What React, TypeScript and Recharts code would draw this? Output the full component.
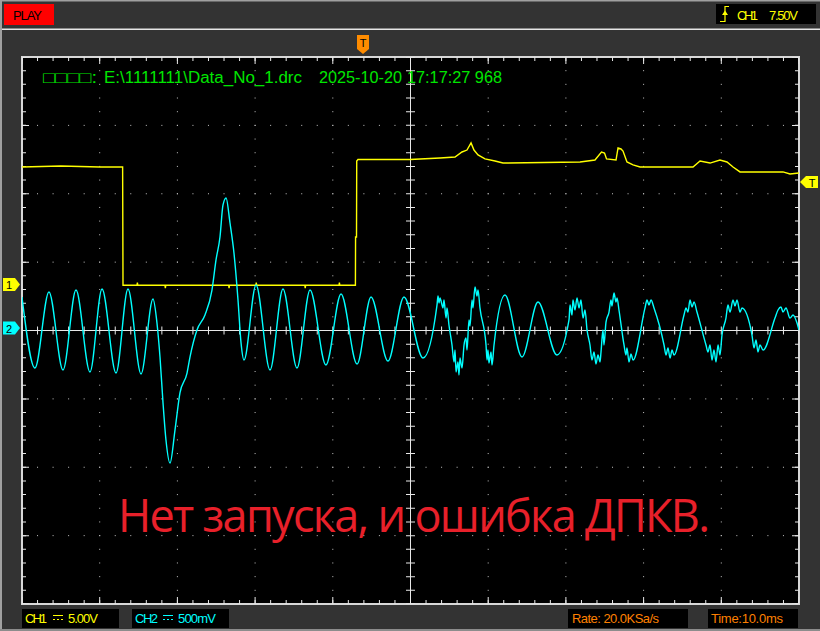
import React from "react";
import { LineChart, Line, XAxis, YAxis, ReferenceLine } from "recharts";

// time in ms from the trigger point, value in volts
const ch1Points: [number, number][] = [
  [-50.0, 8.65], [-45.0, 8.72], [-40.0, 8.65], [-37.05, 8.65], [-37.0, 0],
  [-35.2, 0], [-35.15, 0.2], [-35.1, 0], [-31.6, 0], [-31.55, -0.2], [-31.5, 0],
  [-23.4, 0], [-23.35, -0.2], [-23.3, 0], [-19.9, 0], [-19.85, 0.2], [-19.8, 0],
  [-13.6, 0], [-13.55, -0.2], [-13.5, 0], [-9.2, 0], [-9.15, 0.2], [-9.1, 0],
  [-7.09, 0], [-7.07, 3.53], [-6.95, 3.53], [-6.92, 9.09], [-6.76, 9.2],
  [-0.06, 9.2], [3.8, 9.31], [5.73, 9.38], [6.63, 9.75], [7.27, 9.89],
  [7.79, 10.41], [8.17, 9.89], [8.69, 9.53], [9.59, 9.24], [10.88, 9.09],
  [11.9, 8.94], [21.82, 9.02], [23.74, 9.16], [24.58, 9.75], [24.97, 9.67],
  [25.23, 9.24], [26.45, 9.16], [26.71, 10.04], [27.09, 9.97], [27.35, 9.82],
  [27.86, 9.02], [28.64, 8.8], [29.54, 8.65], [36.36, 8.65], [37.26, 9.09],
  [38.55, 8.94], [39.83, 9.16], [40.73, 9.02], [41.51, 8.65], [42.41, 8.29],
  [47.94, 8.29], [48.84, 8.14], [50.0, 8.21],
];

const ch2Points: [number, number][] = [
  [-50.0, 0.245], [-48.33, -0.274], [-46.53, 0.282], [-44.72, -0.289],
  [-43.05, 0.296], [-41.25, -0.303], [-39.7, 0.303], [-37.9, -0.311],
  [-36.36, 0.303], [-34.68, -0.318], [-33.14, 0.23], [-32.63, 0.055],
  [-32.24, -0.194], [-31.85, -0.53], [-31.47, -0.801], [-30.95, -0.969],
  [-30.31, -0.728], [-29.67, -0.457], [-28.76, -0.311], [-28.38, -0.194],
  [-27.48, 0.004], [-26.45, 0.113], [-25.55, 0.296], [-25.03, 0.516],
  [-24.52, 0.684], [-24.13, 0.918], [-23.74, 0.969], [-23.23, 0.786],
  [-22.72, 0.567], [-22.2, 0.223], [-21.81, -0.091], [-21.43, -0.216],
  [-19.88, 0.333], [-18.08, -0.289], [-16.41, 0.303], [-14.61, -0.274],
  [-12.93, 0.296], [-10.88, -0.252], [-8.94, 0.267], [-6.88, -0.245],
  [-5.08, 0.245], [-2.9, -0.223], [-0.84, 0.245], [1.61, -0.201],
  [3.41, 0.186], [3.54, 0.252], [3.67, 0.201], [3.8, 0.238], [4.18, 0.165],
  [4.31, 0.223], [4.57, 0.091], [4.7, 0.165], [4.95, 0.04], [5.34, -0.106],
  [5.6, -0.23], [5.73, -0.143], [5.86, -0.303], [6.11, -0.23], [6.24, -0.325],
  [6.37, -0.201], [6.63, -0.274], [6.89, -0.106], [7.14, -0.055], [7.27, -0.143],
  [7.53, 0.077], [7.66, 0.033], [7.92, 0.223], [8.04, 0.165], [8.3, 0.318],
  [8.56, 0.252], [8.69, 0.296], [8.94, 0.165], [9.72, -0.106], [9.85, -0.216],
  [9.97, -0.143], [10.1, -0.238], [10.36, -0.157], [10.49, -0.252], [10.75, -0.106],
  [12.16, 0.26], [14.35, -0.194], [16.41, 0.208], [18.85, -0.179],
  [20.4, 0.077], [20.53, 0.186], [20.79, 0.113], [20.91, 0.223], [21.17, 0.15],
  [21.43, 0.238], [21.69, 0.165], [21.94, 0.223], [22.2, 0.091], [22.46, 0.15],
  [22.72, 0.004], [23.1, -0.106], [23.36, -0.216], [23.62, -0.157], [23.87, -0.245],
  [24.13, -0.179], [24.39, -0.23], [24.52, -0.157], [24.77, 0.004], [24.9, -0.106],
  [25.16, 0.062], [25.55, 0.135], [25.8, 0.223], [25.93, 0.179], [26.19, 0.274],
  [26.45, 0.208], [26.58, 0.238], [26.83, 0.15], [27.48, -0.106], [27.73, -0.179],
  [27.86, -0.128], [28.12, -0.23], [28.38, -0.172], [28.64, -0.216],
  [30.18, 0.165], [30.44, 0.223], [30.69, 0.186], [30.95, 0.223], [31.34, 0.165],
  [32.63, -0.106], [32.88, -0.179], [33.14, -0.128], [33.4, -0.201], [33.66, -0.143],
  [33.91, -0.179], [35.2, 0.113], [35.46, 0.165], [35.71, 0.135], [35.97, 0.223],
  [36.23, 0.172], [36.49, 0.208], [36.87, 0.135], [38.03, -0.106], [38.29, -0.157],
  [38.55, -0.106], [38.8, -0.216], [39.06, -0.143], [39.32, -0.23], [39.58, -0.106],
  [39.83, -0.179], [40.09, -0.033], [40.6, 0.091], [40.86, 0.186], [41.12, 0.135],
  [41.51, 0.223], [41.76, 0.179], [42.02, 0.223], [42.41, 0.135], [42.66, 0.165],
  [43.95, -0.033], [44.21, -0.128], [44.47, -0.069], [44.72, -0.157], [44.98, -0.106],
  [45.37, -0.143], [46.91, 0.091], [47.3, 0.15], [47.68, 0.172], [47.94, 0.135],
  [48.33, 0.165], [48.84, 0.091], [49.23, 0.113], [50.0, 0.004],
];

const CH1_VOLTS_PER_DIV = 5;
const CH2_VOLTS_PER_DIV = 0.5;
const CH1_GROUND_DIV = 0.661; // ground marker "1" sits a bit above centre

const headerText = ["□□□□:", "E:\\1111111\\Data_No_1.drc", "2025-10-20", "17:17:27 968"];
const noteText = "Нет запуска, и ошибка ДПКВ.";

// plot area in pixels
const PW = 777;
const PH = 547;
const pxX = 100 / PW; // ms per pixel
const pxY = 8 / PH; // div per pixel
const minorGapX = PW / 50 - 1;
const minorGapY = PH / 40 - 1;
const majorGapX = PW / 10 - 1;
const majorGapY = PH / 8 - 1;

const gridX = [-40, -30, -20, -10, 10, 20, 30, 40];
const gridY = [-3, -2, -1, 1, 2, 3];

const ch1Data = ch1Points.map(([t, v]) => ({ t, v: v / CH1_VOLTS_PER_DIV + CH1_GROUND_DIV }));
const ch2Data = ch2Points.map(([t, v]) => ({ t, v: v / CH2_VOLTS_PER_DIV }));

const FONT = "'Liberation Sans', Arial, sans-serif";

function DcSymbol({ x, color }: { x: number; color: string }) {
  return (
    <g stroke={color} strokeWidth={1}>
      <line x1={x} y1={615.5} x2={x + 10} y2={615.5} />
      <line x1={x} y1={619.5} x2={x + 10} y2={619.5} strokeDasharray="2 2" />
    </g>
  );
}

function Overlay() {
  return (
    <svg width={820} height={631} style={{ position: "absolute", left: 0, top: 0, pointerEvents: "none" }}>
      {/* window frame */}
      <rect x={0} y={0} width={2} height={631} fill="#a0a0a0" />
      <rect x={0} y={0} width={820} height={1.5} fill="#a0a0a0" />
      <rect x={0} y={629} width={820} height={2} fill="#8c8c8c" />
      <rect x={2} y={28.5} width={818} height={1.5} fill="#e6e6e6" />

      {/* top bar */}
      <rect x={4} y={4} width={50} height={21} fill="#ff0000" />
      <text x={13} y={19.5} fontFamily={FONT} fontSize={13} fill="#000" textLength={29}>PLAY</text>
      <rect x={716} y={4} width={100} height={20} fill="#000" />
      <path d="M720 21.5 H725 V6.5 H729" stroke="#ffff00" strokeWidth={1.2} fill="none" />
      <polygon points="722,15 728,15 725,10.5" fill="#ffff00" />
      <text x={737} y={19.5} fontFamily={FONT} fontSize={13} fill="#ffff00" textLength={21}>CH1</text>
      <text x={769} y={19.5} fontFamily={FONT} fontSize={13} fill="#ffff00" textLength={29}>7.50V</text>

      {/* trigger position marker */}
      <polygon points="357,35 369,35 369,49 363,54 357,49" fill="#ff8c00" />
      <text x={363} y={47} fontFamily={FONT} fontSize={11} fill="#000" textAnchor="middle">T</text>

      {/* channel markers */}
      <polygon points="3,278 15,278 20,284.5 15,291 3,291" fill="#ffff00" />
      <text x={9} y={289} fontFamily={FONT} fontSize={11} fill="#000" textAnchor="middle">1</text>
      <polygon points="3,321.5 15,321.5 20,328 15,334.5 3,334.5" fill="#00ffff" />
      <text x={9} y={332.5} fontFamily={FONT} fontSize={11} fill="#000" textAnchor="middle">2</text>
      <polygon points="818,176 806,176 800,182 806,188 818,188" fill="#ffff00" />
      <text x={812} y={186.5} fontFamily={FONT} fontSize={11} fill="#000" textAnchor="middle">T</text>

      {/* header line */}
      <g fontFamily={FONT} fontSize={16} fill="#00e600">
        <text x={43} y={83} textLength={54} lengthAdjust="spacingAndGlyphs">{headerText[0]}</text>
        <text x={104} y={83} textLength={198} lengthAdjust="spacingAndGlyphs">{headerText[1]}</text>
        <text x={319} y={83} textLength={83} lengthAdjust="spacingAndGlyphs">{headerText[2]}</text>
        <text x={407} y={83} textLength={95} lengthAdjust="spacingAndGlyphs">{headerText[3]}</text>
      </g>

      <text x={118} y={532} fontFamily="'Open Sans', 'Noto Sans', sans-serif" fontSize={45} fill="#e8202a" textLength={592}>
        {noteText}
      </text>

      {/* bottom status */}
      <rect x={22} y={609} width={97} height={19} fill="#000" />
      <text x={25} y={623} fontFamily={FONT} fontSize={13} fill="#ffff00" textLength={22}>CH1</text>
      <DcSymbol x={53} color="#ffff00" />
      <text x={68} y={623} fontFamily={FONT} fontSize={13} fill="#ffff00" textLength={30}>5.00V</text>

      <rect x={132} y={609} width={97} height={19} fill="#000" />
      <text x={135} y={623} fontFamily={FONT} fontSize={13} fill="#00ffff" textLength={23}>CH2</text>
      <DcSymbol x={163} color="#00ffff" />
      <text x={178} y={623} fontFamily={FONT} fontSize={13} fill="#00ffff" textLength={38}>500mV</text>

      <rect x={568} y={609} width={120} height={19} fill="#000" />
      <text x={572} y={623} fontFamily={FONT} fontSize={13} fill="#ff8000" textLength={87}>Rate: 20.0KSa/s</text>
      <rect x={708} y={609} width={90} height={19} fill="#000" />
      <text x={711} y={623} fontFamily={FONT} fontSize={13} fill="#ff8000" textLength={72}>Time:10.0ms</text>
    </svg>
  );
}

export default function App(): React.ReactElement {
  const tick = "#e8e8e8";
  return (
    <div style={{ position: "absolute", left: 0, top: 0, width: 820, height: 631, background: "#333333", overflow: "hidden" }}>
      <div
        style={{
          position: "absolute",
          left: 21,
          top: 56,
          width: 779,
          height: 549,
          boxSizing: "border-box",
          border: "2px solid #d8d8d8",
          background: "#000",
        }}
      />
      <div style={{ position: "absolute", left: 0, top: 0 }}>
        <LineChart width={820} height={631} margin={{ top: 57, right: 21, bottom: 27, left: 22 }}>
          <XAxis type="number" dataKey="t" domain={[-50, 50]} allowDataOverflow hide />
          <YAxis type="number" domain={[-4, 4]} allowDataOverflow hide />

          {/* dotted graticule */}
          {gridY.map((y) => (
            <ReferenceLine key={`gy${y}`} y={y} stroke="#c4c4c4" strokeDasharray={`1 ${minorGapX}`} strokeDashoffset={0.5} />
          ))}
          {gridX.map((x) => (
            <ReferenceLine key={`gx${x}`} x={x} stroke="#c4c4c4" strokeDasharray={`1 ${minorGapY}`} strokeDashoffset={0.5} />
          ))}

          {/* edge ticks */}
          <ReferenceLine y={4 - 2 * pxY} stroke={tick} strokeWidth={4} strokeDasharray={`1 ${minorGapX}`} strokeDashoffset={0.5} />
          <ReferenceLine y={4 - 3.5 * pxY} stroke={tick} strokeWidth={7} strokeDasharray={`1 ${majorGapX}`} strokeDashoffset={0.5} />
          <ReferenceLine y={-4 + 2 * pxY} stroke={tick} strokeWidth={4} strokeDasharray={`1 ${minorGapX}`} strokeDashoffset={0.5} />
          <ReferenceLine y={-4 + 3.5 * pxY} stroke={tick} strokeWidth={7} strokeDasharray={`1 ${majorGapX}`} strokeDashoffset={0.5} />
          <ReferenceLine x={-50 + 2 * pxX} stroke={tick} strokeWidth={4} strokeDasharray={`1 ${minorGapY}`} strokeDashoffset={0.5} />
          <ReferenceLine x={-50 + 3.5 * pxX} stroke={tick} strokeWidth={7} strokeDasharray={`1 ${majorGapY}`} strokeDashoffset={0.5} />
          <ReferenceLine x={50 - 2 * pxX} stroke={tick} strokeWidth={4} strokeDasharray={`1 ${minorGapY}`} strokeDashoffset={0.5} />
          <ReferenceLine x={50 - 3.5 * pxX} stroke={tick} strokeWidth={7} strokeDasharray={`1 ${majorGapY}`} strokeDashoffset={0.5} />

          {/* centre cross */}
          <ReferenceLine y={0} stroke={tick} strokeWidth={1} />
          <ReferenceLine y={0} stroke={tick} strokeWidth={8} strokeDasharray={`1 ${minorGapX}`} strokeDashoffset={0.5} />
          <ReferenceLine x={0} stroke={tick} strokeWidth={1} />
          <ReferenceLine x={0} stroke={tick} strokeWidth={9} strokeDasharray={`1 ${minorGapY}`} strokeDashoffset={0.5} />

          <Line data={ch1Data} dataKey="v" type="linear" stroke="#ffff00" strokeWidth={1.4} dot={false} isAnimationActive={false} />
          <Line data={ch2Data} dataKey="v" type="monotone" stroke="#00ffff" strokeWidth={1.4} dot={false} isAnimationActive={false} />
        </LineChart>
      </div>
      <Overlay />
    </div>
  );
}
